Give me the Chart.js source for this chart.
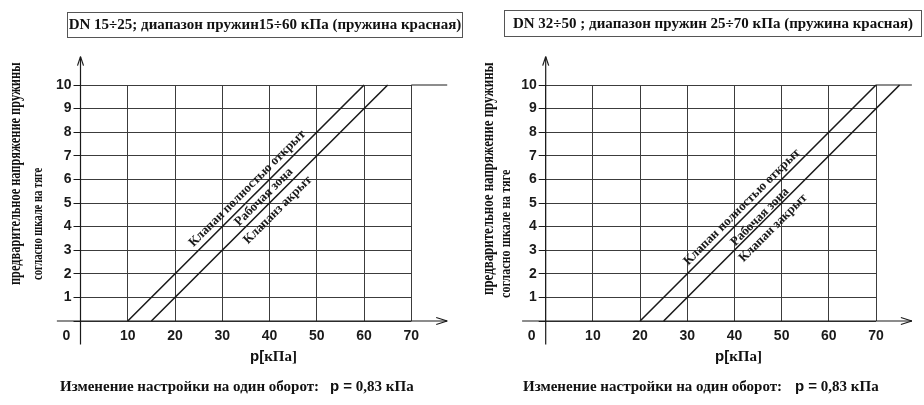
<!DOCTYPE html>
<html>
<head>
<meta charset="utf-8">
<script src="https://cdn.jsdelivr.net/npm/chart.js@4.4.0/dist/chart.umd.min.js"></script>
<style>
  body { margin: 0; width: 924px; height: 405px; position: relative; overflow: hidden; background: #fff; color: #111; font-family: "Liberation Serif", serif; }
  canvas { position: absolute; top: 0; }
  .box { position: absolute; box-sizing: border-box; border: 1.5px solid #555; font-weight: bold; font-size: 15px; white-space: nowrap; text-align: center; }
  .ytitle { position: absolute; transform-origin: 0 0; font-weight: bold; white-space: nowrap; }
  .txt { position: absolute; font-weight: bold; font-size: 15px; white-space: nowrap; line-height: 18px; }
  .sans { font-family: "Liberation Sans", sans-serif; }
</style>
</head>
<body>
<canvas id="leftChart" width="462" height="405" style="left:0"></canvas>
<canvas id="rightChart" width="462" height="405" style="left:462px"></canvas>

<div class="box" style="left:67px;top:12px;width:396px;height:26px;line-height:23px">DN 15÷25; диапазон пружин15÷60 кПа (пружина красная)</div>
<div class="box" style="left:504px;top:10px;width:418px;height:27px;line-height:24px">DN 32÷50 ; диапазон пружин 25÷70 кПа (пружина красная)</div>

<div class="ytitle" data-cx="15" data-bottom="285" data-len="223" style="font-size:16px;line-height:18px">предварительное напряжение пружины</div>
<div class="ytitle" data-cx="37" data-bottom="280" data-len="112" style="font-size:14.5px;line-height:16px">согласно шкале на тяге</div>
<div class="ytitle" data-cx="488" data-bottom="295" data-len="233" style="font-size:16px;line-height:18px">предварительное напряжение пружины</div>
<div class="ytitle" data-cx="505" data-bottom="298" data-len="128" style="font-size:14.5px;line-height:16px">согласно шкале на тяге</div>

<div class="txt" style="left:250px;top:347px"><span class="sans">p[</span>кПа]</div>
<div class="txt" style="left:715px;top:347px"><span class="sans">p[</span>кПа]</div>

<div class="txt" style="left:60px;top:377px">Изменение настройки на один оборот:</div>
<div class="txt" style="left:330px;top:377px"><span class="sans">p =</span> 0,83 кПа</div>
<div class="txt" style="left:523px;top:377px">Изменение настройки на один оборот:</div>
<div class="txt" style="left:795px;top:377px"><span class="sans">p =</span> 0,83 кПа</div>

<script>
// ── Data ──
const X_TICKS = [0, 10, 20, 30, 40, 50, 60, 70];      // p, кПа
const Y_TICKS = [0, 1, 2, 3, 4, 5, 6, 7, 8, 9, 10];   // setting on the rod scale
const SETTING = [0, 10];

// DN 15÷25
const LEFT_OPEN_P = [10, 60];
const LEFT_CLOSED_P = [15, 65];
// DN 32÷50
const RIGHT_OPEN_P = [20, 70];
const RIGHT_CLOSED_P = [25, 75];

const LABEL_OPEN = 'Клапан полностью открыт';
const LABEL_ZONE = 'Рабочая зона';
const LABEL_CLOSED_LEFT = 'Клапанз акрыт';
const LABEL_CLOSED_RIGHT = 'Клапан закрыт';

// where the slanted captions sit, in data units (p, setting)
const LEFT_CAPTIONS = [
  { text: LABEL_OPEN, p: 35.3, s: 5.61 },
  { text: LABEL_ZONE, p: 38.8, s: 5.25 },
  { text: LABEL_CLOSED_LEFT, p: 41.75, s: 4.70 }
];
const RIGHT_CAPTIONS = [
  { text: LABEL_OPEN, p: 41.6, s: 4.83 },
  { text: LABEL_ZONE, p: 45.4, s: 4.41 },
  { text: LABEL_CLOSED_RIGHT, p: 48.2, s: 3.94 }
];

const INK = '#1a1a1a';
const GRID = '#3c3c3c';
const TICK_FONT = { family: 'Liberation Sans', size: 14, weight: 'bold' };

// rotated y titles: squeeze to the length seen in the original
document.querySelectorAll('.ytitle').forEach(el => {
  const w = el.offsetWidth, h = el.offsetHeight;
  const k = +el.dataset.len / w;
  el.style.left = (+el.dataset.cx - h / 2) + 'px';
  el.style.top = el.dataset.bottom + 'px';
  el.style.transform = `rotate(-90deg) scaleX(${k})`;
});

function pts(ps) { return ps.map((p, i) => ({ x: p, y: SETTING[i] })); }

function strokeLine(ctx, x1, y1, x2, y2) {
  ctx.beginPath(); ctx.moveTo(x1, y1); ctx.lineTo(x2, y2); ctx.stroke();
}

// ── Axes with arrows, extensions, "0" and slanted captions ──
const decor = {
  id: 'decor',
  afterDatasetsDraw(chart, args, opts) {
    const { ctx, scales: { x, y } } = chart;
    const x0 = x.getPixelForValue(0), y0 = y.getPixelForValue(0);
    const xEnd = x.getPixelForValue(77.6), yTop = y.getPixelForValue(11.2);
    ctx.save();
    ctx.strokeStyle = INK; ctx.lineWidth = 1.2;
    // y axis + arrow
    strokeLine(ctx, x0, y.getPixelForValue(-1), x0, yTop);
    strokeLine(ctx, x0 - 3, yTop + 9, x0, yTop);
    strokeLine(ctx, x0 + 3, yTop + 9, x0, yTop);
    // x axis + arrow
    strokeLine(ctx, x.getPixelForValue(-5), y0, xEnd, y0);
    strokeLine(ctx, xEnd - 11, y0 - 3.5, xEnd, y0);
    strokeLine(ctx, xEnd - 11, y0 + 3.5, xEnd, y0);
    // top line runs on to the arrow
    ctx.lineWidth = 1;
    const y10 = y.getPixelForValue(10);
    strokeLine(ctx, x.right, y10, xEnd, y10);
    // shared zero
    ctx.fillStyle = INK;
    ctx.font = 'bold 14px "Liberation Sans"';
    ctx.textAlign = 'center'; ctx.textBaseline = 'middle';
    ctx.fillText('0', x0 - 14, 336);
    // captions along the lines
    const d = chart.data.datasets[0].data;
    const ang = Math.atan2(y.getPixelForValue(d[1].y) - y.getPixelForValue(d[0].y),
                           x.getPixelForValue(d[1].x) - x.getPixelForValue(d[0].x));
    ctx.font = 'bold 13px "Liberation Serif"';
    opts.captions.forEach(c => {
      ctx.save();
      ctx.translate(x.getPixelForValue(c.p), y.getPixelForValue(c.s));
      ctx.rotate(ang);
      ctx.fillText(c.text, 0, 0);
      ctx.restore();
    });
    ctx.restore();
  }
};

function makeChart(id, openP, closedP, captions, yAxisW, padRight) {
  return new Chart(document.getElementById(id), {
    type: 'line',
    data: {
      datasets: [
        { label: LABEL_OPEN, data: pts(openP), borderColor: INK, borderWidth: 1.6, pointRadius: 0, clip: false },
        { label: LABEL_CLOSED_RIGHT, data: pts(closedP), borderColor: INK, borderWidth: 1.6, pointRadius: 0, clip: false }
      ]
    },
    options: {
      responsive: false, animation: false,
      layout: { padding: { left: 0, right: padRight, top: 85, bottom: 34 } },
      plugins: { legend: { display: false }, tooltip: { enabled: false }, decor: { captions } },
      scales: {
        x: {
          type: 'linear', min: 0, max: 70,
          afterBuildTicks: s => { s.ticks = X_TICKS.map(v => ({ value: v })); },
          afterFit: s => { s.height = 50; },
          ticks: { color: INK, font: TICK_FONT, padding: 7, maxRotation: 0, callback: v => v === 0 ? '' : v },
          grid: { color: GRID, lineWidth: 1, drawTicks: false },
          border: { display: false }
        },
        y: {
          type: 'linear', min: 0, max: 10,
          afterBuildTicks: s => { s.ticks = Y_TICKS.map(v => ({ value: v })); },
          afterFit: s => { s.width = yAxisW; },
          ticks: { color: INK, font: TICK_FONT, padding: 2, callback: v => v === 0 ? '' : v },
          grid: { color: GRID, lineWidth: 1, drawTicks: true, tickLength: 7, tickColor: INK },
          border: { display: false }
        }
      }
    },
    plugins: [decor]
  });
}

makeChart('leftChart', LEFT_OPEN_P, LEFT_CLOSED_P, LEFT_CAPTIONS, 80.5, 50.7);
makeChart('rightChart', RIGHT_OPEN_P, RIGHT_CLOSED_P, RIGHT_CAPTIONS, 83.7, 48);
</script>
</body>
</html>
